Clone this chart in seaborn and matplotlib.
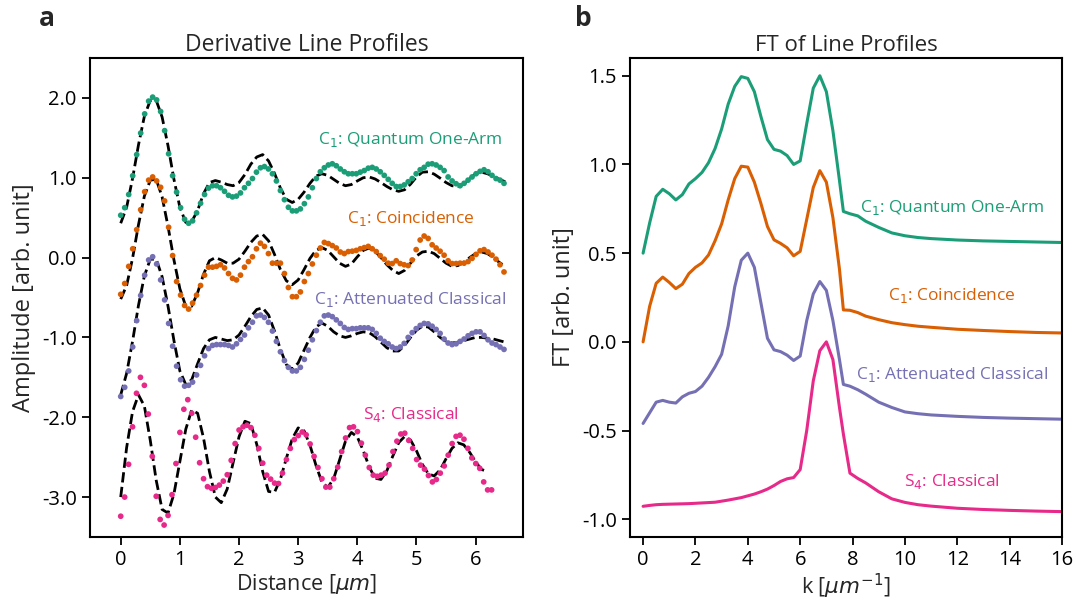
import numpy as np
import pandas as pd
import matplotlib
matplotlib.use('Agg')
import matplotlib.pyplot as plt
import seaborn as sns

sns.set_theme(style='ticks')
plt.rcParams['font.family'] = ['Open Sans', 'DejaVu Sans']
plt.rcParams['axes.unicode_minus'] = False
plt.rcParams['mathtext.fontset'] = 'dejavusans'

# 颜色 (Dark2)
colors = {'quantum': '#1b9e77', 'coinc': '#d95f02', 'atten': '#7570b3', 'classical': '#e7298a'}

# ---------------- 左图: 导数线轮廓 (点 + 拟合虚线) ----------------
quantum_pts = [0.53, 0.625, 0.79, 1.025, 1.29, 1.56, 1.80, 1.96, 2.01, 1.975,
               1.83, 1.59, 1.30, 1.025, 0.82, 0.625, 0.48, 0.43, 0.46, 0.56,
               0.68, 0.79, 0.87, 0.90, 0.90, 0.875, 0.83, 0.78, 0.76, 0.77,
               0.81, 0.875, 0.93, 0.99, 1.07, 1.125, 1.14, 1.11, 1.05, 0.96,
               0.84, 0.725, 0.63, 0.585, 0.585, 0.61, 0.675, 0.76, 0.875, 0.99,
               1.075, 1.125, 1.16, 1.175, 1.15, 1.11, 1.075, 1.05, 1.05, 1.05,
               1.07, 1.09, 1.12, 1.13, 1.11, 1.075, 1.03, 0.98, 0.93, 0.89,
               0.89, 0.91, 0.95, 0.99, 1.05, 1.10, 1.13, 1.17, 1.175, 1.16,
               1.13, 1.09, 1.01, 0.96, 0.925, 0.90, 0.93, 0.97, 1.01, 1.05,
               1.08, 1.10, 1.075, 1.03, 0.99, 0.97, 0.93]
coinc_pts = [-0.46, -0.325, -0.11, 0.11, 0.35, 0.60, 0.825, 0.97, 1.01, 0.96,
             0.88, 0.71, 0.38, 0.025, -0.30, -0.47, -0.60, -0.645, -0.57, -0.47,
             -0.35, -0.22, -0.12, -0.12, -0.11, -0.09, -0.13, -0.20, -0.26, -0.28,
             -0.22, -0.12, -0.05, 0.01, 0.11, 0.18, 0.14, 0.05, -0.07, -0.07,
             -0.07, -0.20, -0.375, -0.49, -0.49, -0.43, -0.30, -0.20, -0.08, 0.03,
             0.12, 0.19, 0.175, 0.15, 0.12, 0.07, 0.05, 0.075, 0.08, 0.09,
             0.11, 0.125, 0.14, 0.11, 0.075, 0.025, -0.02, -0.07, -0.075, -0.04,
             -0.075, -0.09, -0.10, -0.03, 0.10, 0.22, 0.27, 0.24, 0.16, 0.12,
             0.08, 0.03, -0.04, -0.075, -0.075, -0.07, -0.07, -0.05, -0.01, 0.04,
             0.085, 0.10, 0.07, 0.03, -0.02, -0.09, -0.18]
atten_pts = [-1.74, -1.625, -1.42, -1.12, -0.79, -0.475, -0.22, -0.03, 0.01, -0.08,
             -0.28, -0.53, -0.825, -1.11, -1.36, -1.53, -1.61, -1.60, -1.56, -1.47,
             -1.35, -1.23, -1.14, -1.10, -1.09, -1.09, -1.09, -1.10, -1.12, -1.08,
             -1.025, -0.97, -0.88, -0.81, -0.73, -0.72, -0.75, -0.81, -0.92, -1.05,
             -1.18, -1.29, -1.375, -1.42, -1.42, -1.375, -1.275, -1.16, -1.03, -0.915,
             -0.81, -0.73, -0.72, -0.74, -0.78, -0.825, -0.875, -0.90, -0.89, -0.89,
             -0.88, -0.88, -0.88, -0.90, -0.95, -1.01, -1.05, -1.08, -1.12, -1.14,
             -1.12, -1.075, -1.00, -0.94, -0.89, -0.85, -0.825, -0.83, -0.86, -0.90,
             -0.95, -1.02, -1.07, -1.09, -1.08, -1.05, -1.02, -0.98, -0.95, -0.93,
             -0.93, -0.975, -1.03, -1.07, -1.09, -1.12, -1.15]
classical_pts = [-3.24, -3.00, -2.59, -2.12, -1.70, -1.50, -1.60, -1.96, -2.49, -2.99,
                 -3.28, -3.35, -3.23, -2.97, -2.58, -2.19, -1.90, -1.78, -1.95, -2.25,
                 -2.57, -2.77, -2.87, -2.89, -2.88, -2.85, -2.80, -2.72, -2.54, -2.33,
                 -2.16, -2.12, -2.10, -2.13, -2.225, -2.39, -2.575, -2.725, -2.775, -2.825,
                 -2.83, -2.70, -2.53, -2.39, -2.28, -2.23, -2.185, -2.22, -2.335, -2.49,
                 -2.63, -2.77, -2.875, -2.875, -2.77, -2.625, -2.43, -2.26, -2.13, -2.12,
                 -2.18, -2.325, -2.475, -2.63, -2.725, -2.74, -2.725, -2.70, -2.60, -2.43,
                 -2.30, -2.21, -2.20, -2.29, -2.39, -2.53, -2.60, -2.65, -2.73, -2.81,
                 -2.78, -2.70, -2.61, -2.475, -2.33, -2.24, -2.225, -2.275, -2.39, -2.51,
                 -2.58, -2.64, -2.81, -2.91, -2.91]

dist_pts = np.linspace(0, 6.48, len(quantum_pts))
dist_pink = np.linspace(0, 6.27, len(classical_pts))

quantum_fit = [0.43, 0.63, 0.99, 1.41, 1.77, 1.97, 1.97, 1.76, 1.40, 0.98,
               0.63, 0.44, 0.45, 0.59, 0.80, 0.94, 0.965, 0.945, 0.915, 0.90,
               0.94, 1.04, 1.17, 1.26, 1.29, 1.21, 1.055, 0.87, 0.73, 0.69,
               0.73, 0.82, 0.93, 1.02, 1.05, 1.03, 0.98, 0.93, 0.90, 0.915,
               0.96, 1.00, 1.01, 0.985, 0.94, 0.89, 0.85, 0.83, 0.85, 0.92,
               1.01, 1.07, 1.075, 1.045, 0.995, 0.94, 0.90, 0.89, 0.92, 0.99,
               1.05, 1.07, 1.05, 1.02, 0.98, 0.95]
coinc_fit = [-0.52, -0.35, -0.01, 0.41, 0.77, 0.97, 0.98, 0.76, 0.39, -0.03,
             -0.39, -0.61, -0.61, -0.44, -0.21, -0.04, 0.0, -0.03, -0.07, -0.07,
             -0.02, 0.08, 0.19, 0.27, 0.29, 0.21, 0.04, -0.15, -0.29, -0.34,
             -0.28, -0.15, -0.01, 0.09, 0.125, 0.09, 0.01, -0.07, -0.11, -0.08,
             0.01, 0.09, 0.12, 0.08, 0.0, -0.09, -0.16, -0.20, -0.16, -0.07,
             0.02, 0.07, 0.08, 0.05, -0.01, -0.07, -0.11, -0.10, -0.06, 0.0,
             0.05, 0.07, 0.05, 0.0, -0.06, -0.11]
atten_fit = [-1.72, -1.45, -1.05, -0.60, -0.23, -0.02, -0.02, -0.24, -0.61, -1.04,
             -1.42, -1.59, -1.53, -1.33, -1.14, -1.03, -1.00, -1.02, -1.04, -1.03,
             -0.97, -0.86, -0.74, -0.65, -0.63, -0.72, -0.92, -1.15, -1.34, -1.40,
             -1.32, -1.16, -1.00, -0.87, -0.82, -0.86, -0.93, -0.98, -1.00, -0.98,
             -0.95, -0.93, -0.94, -0.99, -1.06, -1.13, -1.17, -1.17, -1.10, -1.00,
             -0.91, -0.86, -0.87, -0.93, -1.00, -1.05, -1.07, -1.06, -1.04, -1.02,
             -1.00, -1.00, -1.01, -1.02, -1.04, -1.06]
classical_fit = [-3.00, -2.38, -1.93, -1.72, -1.86, -2.29, -2.79, -3.155, -3.20, -2.96,
                 -2.555, -2.15, -1.91, -1.95, -2.26, -2.68, -3.00, -3.07, -2.90, -2.57,
                 -2.245, -2.05, -2.08, -2.34, -2.68, -2.93, -2.94, -2.775, -2.515, -2.27,
                 -2.133, -2.17, -2.35, -2.60, -2.81, -2.88, -2.77, -2.535, -2.30, -2.19,
                 -2.247, -2.417, -2.62, -2.764, -2.779, -2.669, -2.486, -2.318, -2.24, -2.286,
                 -2.42, -2.59, -2.71, -2.735, -2.66, -2.52, -2.39, -2.32, -2.346, -2.44,
                 -2.56, -2.654, -2.68]

dist_fit = np.arange(len(quantum_fit)) * 0.1
dist_fit_pink = np.arange(len(classical_fit)) * 0.1

# ---------------- 右图: 线轮廓傅里叶变换 ----------------
k_vals = [0, 0.25, 0.5, 0.75, 1.0, 1.25, 1.5, 1.75, 2.0, 2.25,
          2.5, 2.75, 3.0, 3.25, 3.5, 3.75, 4.0, 4.25, 4.5, 4.75,
          5.0, 5.25, 5.5, 5.75, 6.0, 6.25, 6.5, 6.75, 7.0, 7.25,
          7.5, 7.65, 7.9, 8.2, 8.5, 9.0, 9.5, 10.0, 10.5, 11.0,
          12.0, 13.0, 14.0, 15.0, 16.0]
ft_quantum = [0.50, 0.67, 0.82, 0.86, 0.835, 0.80, 0.83, 0.89, 0.92, 0.955,
              1.01, 1.09, 1.20, 1.34, 1.44, 1.495, 1.485, 1.41, 1.27, 1.14,
              1.085, 1.075, 1.05, 1.00, 1.02, 1.23, 1.43, 1.50, 1.41, 1.19,
              0.91, 0.735, 0.722, 0.71, 0.68, 0.645, 0.614, 0.598, 0.588, 0.582,
              0.574, 0.569, 0.566, 0.563, 0.56]
ft_coinc = [0.0, 0.20, 0.33, 0.365, 0.335, 0.30, 0.325, 0.385, 0.42, 0.445,
            0.49, 0.57, 0.665, 0.80, 0.92, 0.99, 0.985, 0.90, 0.78, 0.65,
            0.575, 0.555, 0.53, 0.485, 0.51, 0.69, 0.87, 0.965, 0.90, 0.70,
            0.41, 0.18, 0.178, 0.165, 0.145, 0.125, 0.108, 0.097, 0.088, 0.082,
            0.071, 0.064, 0.058, 0.053, 0.05]
ft_atten = [-0.46, -0.40, -0.34, -0.33, -0.34, -0.345, -0.31, -0.29, -0.28, -0.25,
            -0.20, -0.14, -0.07, 0.09, 0.31, 0.46, 0.50, 0.42, 0.22, 0.02,
            -0.045, -0.055, -0.075, -0.105, -0.08, 0.12, 0.27, 0.34, 0.29, 0.12,
            -0.10, -0.24, -0.25, -0.27, -0.295, -0.34, -0.37, -0.395, -0.405, -0.412,
            -0.42, -0.426, -0.43, -0.433, -0.436]
ft_classical = [-0.927, -0.922, -0.918, -0.916, -0.915, -0.914, -0.913, -0.912, -0.91, -0.908,
                -0.906, -0.904, -0.898, -0.892, -0.885, -0.878, -0.868, -0.858, -0.845, -0.83,
                -0.81, -0.787, -0.772, -0.765, -0.72, -0.50, -0.22, -0.05, 0.0, -0.10,
                -0.37, -0.52, -0.74, -0.77, -0.795, -0.845, -0.885, -0.905, -0.918, -0.926,
                -0.938, -0.945, -0.95, -0.954, -0.957]

labels = {'quantum': r'C$_1$: Quantum One-Arm',
          'coinc': r'C$_1$: Coincidence',
          'atten': r'C$_1$: Attenuated Classical',
          'classical': r'S$_4$: Classical'}

# 整理为长表
pts = pd.concat([
    pd.DataFrame({'d': dist_pts, 'amp': quantum_pts, 'series': 'quantum'}),
    pd.DataFrame({'d': dist_pts, 'amp': coinc_pts, 'series': 'coinc'}),
    pd.DataFrame({'d': dist_pts, 'amp': atten_pts, 'series': 'atten'}),
    pd.DataFrame({'d': dist_pink, 'amp': classical_pts, 'series': 'classical'}),
])
fits = [(dist_fit, quantum_fit), (dist_fit, coinc_fit), (dist_fit, atten_fit),
        (dist_fit_pink, classical_fit)]
ft = pd.concat([
    pd.DataFrame({'k': k_vals, 'ft': ft_quantum, 'series': 'quantum'}),
    pd.DataFrame({'k': k_vals, 'ft': ft_coinc, 'series': 'coinc'}),
    pd.DataFrame({'k': k_vals, 'ft': ft_atten, 'series': 'atten'}),
    pd.DataFrame({'k': k_vals, 'ft': ft_classical, 'series': 'classical'}),
])

fig = plt.figure(figsize=(10.76, 6.01), dpi=100)
ax1 = fig.add_axes([0.0836, 0.1065, 0.4024, 0.797])
ax2 = fig.add_axes([0.5855, 0.1065, 0.4015, 0.797])

# 左图
for xf, yf in fits:
    sns.lineplot(x=xf, y=yf, color='black', linestyle='--', lw=2, ax=ax1,
                 estimator=None, sort=False, zorder=2)
sns.scatterplot(data=pts, x='d', y='amp', hue='series', palette=colors, s=17,
                linewidth=0, legend=False, ax=ax1, zorder=3)

lbl_pos_a = {'quantum': 1.48, 'coinc': 0.49, 'atten': -0.525, 'classical': -1.96}
for key, yv in lbl_pos_a.items():
    ax1.text(4.9, yv, labels[key], color=colors[key], fontsize=12.5, ha='center', va='center')

ax1.set_xlim(-0.52, 6.8)
ax1.set_ylim(-3.5, 2.5)
ax1.set_xticks(range(0, 7))
ax1.set_yticks([2.0, 1.0, 0.0, -1.0, -2.0, -3.0])
ax1.set_yticklabels(['2.0', '1.0', '0.0', '-1.0', '-2.0', '-3.0'])
ax1.set_xlabel(r'Distance [$\mu m$]', fontsize=15.5, labelpad=1)
ax1.set_ylabel('Amplitude [arb. unit]', fontsize=17, labelpad=4)
ax1.set_title('Derivative Line Profiles', fontsize=16.5, pad=5)

# 右图
sns.lineplot(data=ft, x='k', y='ft', hue='series', palette=colors, lw=2.2,
             estimator=None, legend=False, ax=ax2)
lbl_pos_b = {'quantum': 0.76, 'coinc': 0.26, 'atten': -0.185, 'classical': -0.79}
for key, yv in lbl_pos_b.items():
    ax2.text(11.8, yv, labels[key], color=colors[key], fontsize=12.5, ha='center', va='center')

ax2.set_xlim(-0.5, 16)
ax2.set_ylim(-1.1, 1.6)
ax2.set_xticks(range(0, 17, 2))
ax2.set_yticks([1.5, 1.0, 0.5, 0.0, -0.5, -1.0])
ax2.set_yticklabels(['1.5', '1.0', '0.5', '0.0', '-0.5', '-1.0'])
ax2.set_xlabel(r'k [$\mu m^{-1}$]', fontsize=15.5, labelpad=1)
ax2.set_ylabel('FT [arb. unit]', fontsize=17, labelpad=4)
ax2.set_title('FT of Line Profiles', fontsize=16, pad=5)

for ax in (ax1, ax2):
    for sp in ax.spines.values():
        sp.set_linewidth(1.5)
        sp.set_color('black')
    ax.tick_params(direction='out', length=6, width=1.3, labelsize=14.5, colors='black')

fig.text(0.044, 0.97, 'a', fontsize=19, fontweight='bold', ha='center', va='center')
fig.text(0.542, 0.97, 'b', fontsize=19, fontweight='bold', ha='center', va='center')

fig.savefig('out.png', dpi=100)
